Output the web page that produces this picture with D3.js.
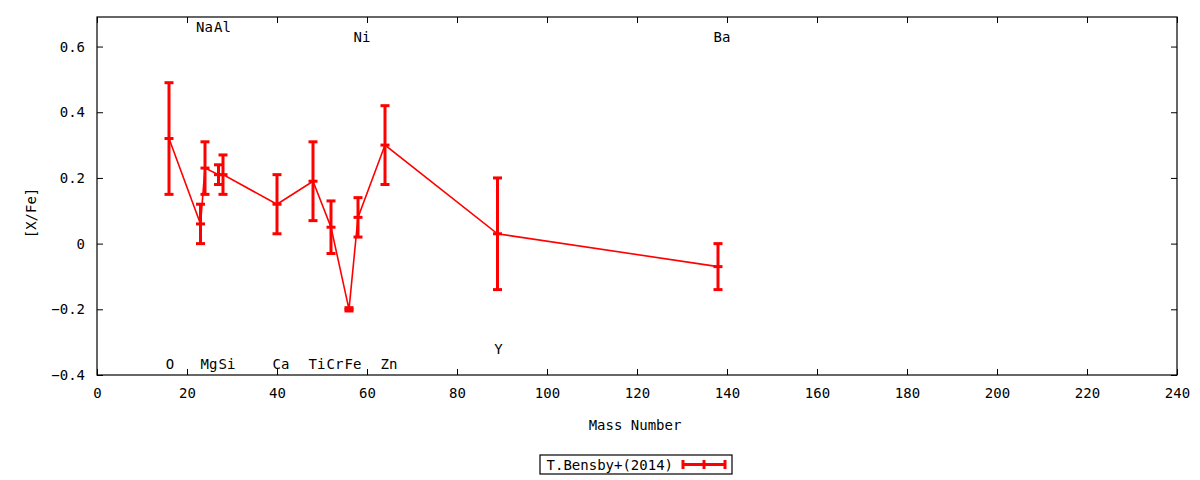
<!DOCTYPE html>
<html>
<head>
<meta charset="utf-8">
<script src="https://cdn.jsdelivr.net/npm/d3@7"></script>
<style>
  body { margin: 0; background: #fff; }
  text { font-family: "DejaVu Sans Mono", monospace; font-size: 14px; fill: #000; }
</style>
</head>
<body>
<div id="chart"></div>
<script>
// abundances, T.Bensby+(2014)
const elements = ["O", "Na", "Mg", "Al", "Si", "Ca", "Ti", "Cr", "Fe", "Ni", "Zn", "Y", "Ba"];
const massNumbers = [16, 23, 24, 27, 28, 40, 48, 52, 56, 58, 64, 89, 138];
const xfe = [0.32, 0.06, 0.23, 0.21, 0.21, 0.12, 0.19, 0.05, -0.20, 0.08, 0.30, 0.03, -0.07];
const errLow = [0.15, 0.00, 0.15, 0.18, 0.15, 0.03, 0.07, -0.03, -0.205, 0.02, 0.18, -0.14, -0.14];
const errHigh = [0.49, 0.12, 0.31, 0.24, 0.27, 0.21, 0.31, 0.13, -0.195, 0.14, 0.42, 0.20, 0.00];
// element label heights in [X/Fe] units
const labelY = [-0.365, 0.66, -0.365, 0.66, -0.365, -0.365, -0.365, -0.365, -0.365, 0.63, -0.365, -0.32, 0.63];

const xTicks = d3.range(0, 241, 20);
const yTicks = [-0.4, -0.2, 0, 0.2, 0.4, 0.6];

const W = 1200, H = 480;
const margin = { top: 17, right: 23, bottom: 105, left: 97 };
const width = W - margin.left - margin.right,
  height = H - margin.top - margin.bottom;

const svg = d3.select("#chart").append("svg")
  .attr("width", W).attr("height", H);
const g = svg.append("g")
  .attr("transform", "translate(" + margin.left + "," + margin.top + ")");

const x = d3.scaleLinear().domain([0, 240]).range([0, width]);
const y = d3.scaleLinear().domain([-0.4, 0.69]).range([height, 0]);

// axes: gnuplot style, ticks inward and mirrored
const fmtY = d => d === 0 ? "0" : d3.format(".1f")(d);
g.append("g").attr("transform", "translate(0," + height + ")")
  .call(d3.axisBottom(x).tickValues(xTicks).tickSize(-6).tickPadding(13).tickSizeOuter(0));
g.append("g")
  .call(d3.axisTop(x).tickValues(xTicks).tickSize(-6).tickFormat("").tickSizeOuter(0));
g.append("g")
  .call(d3.axisLeft(y).tickValues(yTicks).tickSize(-6).tickPadding(12).tickFormat(fmtY).tickSizeOuter(0));
g.append("g").attr("transform", "translate(" + width + ",0)")
  .call(d3.axisRight(y).tickValues(yTicks).tickSize(-6).tickFormat("").tickSizeOuter(0));
g.selectAll(".domain").remove();
g.selectAll(".tick line").attr("stroke", "#000");
g.selectAll(".tick text").style("font-family", "DejaVu Sans Mono").style("font-size", "14px");

g.append("rect")
  .attr("width", width).attr("height", height)
  .attr("fill", "none").attr("stroke", "#000").attr("stroke-width", 1.2);

// axis titles
svg.append("text")
  .attr("transform", "translate(36," + (margin.top + height / 2 + 17) + ") rotate(-90)")
  .attr("text-anchor", "middle").text("[X/Fe]");
svg.append("text")
  .attr("x", margin.left + width / 2 - 2).attr("y", 430)
  .attr("text-anchor", "middle").text("Mass Number");

// data
const pts = elements.map((e, i) => ({
  el: e, m: massNumbers[i], v: xfe[i], lo: errLow[i], hi: errHigh[i], ly: labelY[i]
}));

const red = "#ff0000";
g.append("path")
  .datum(pts)
  .attr("fill", "none").attr("stroke", red).attr("stroke-width", 1.6)
  .attr("d", d3.line().x(d => x(d.m)).y(d => y(d.v)));

const bars = g.append("g").selectAll("g").data(pts).join("g");
bars.append("line")
  .attr("x1", d => x(d.m)).attr("x2", d => x(d.m))
  .attr("y1", d => y(d.lo)).attr("y2", d => y(d.hi))
  .attr("stroke", red).attr("stroke-width", 3);
["lo", "hi", "v"].forEach(k => {
  bars.append("line")
    .attr("x1", d => x(d.m) - 4.5).attr("x2", d => x(d.m) + 4.5)
    .attr("y1", d => y(d[k])).attr("y2", d => y(d[k]))
    .attr("stroke", red).attr("stroke-width", 3);
});

// element labels
g.append("g").selectAll("text").data(pts).join("text")
  .attr("x", d => x(d.m) + (d.el.length > 1 ? 4 : 1))
  .attr("y", d => y(d.ly) + 5)
  .attr("text-anchor", "middle")
  .text(d => d.el);

// legend
const lg = svg.append("g").attr("transform", "translate(540,455)");
lg.append("rect").attr("width", 192).attr("height", 19)
  .attr("fill", "#fff").attr("stroke", "#000").attr("stroke-width", 1.2);
lg.append("text").attr("x", 133).attr("y", 15).attr("text-anchor", "end").text("T.Bensby+(2014)");
lg.append("line").attr("x1", 143).attr("x2", 185).attr("y1", 9.5).attr("y2", 9.5)
  .attr("stroke", red).attr("stroke-width", 3);
[143, 164, 185].forEach(cx => {
  lg.append("line").attr("x1", cx).attr("x2", cx).attr("y1", 5).attr("y2", 14)
    .attr("stroke", red).attr("stroke-width", 3);
});
</script>
</body>
</html>
